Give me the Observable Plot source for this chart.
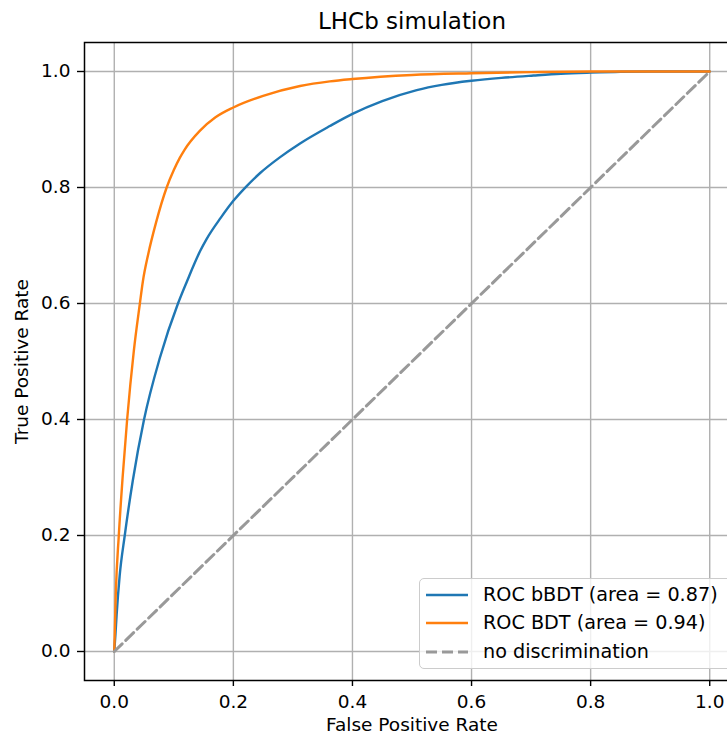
<!DOCTYPE html>
<html>
<head>
<meta charset="utf-8">
<script src="https://cdn.jsdelivr.net/npm/d3@7"></script>
<script src="https://cdn.jsdelivr.net/npm/@observablehq/plot@0.6"></script>
<style>
  html, body { margin: 0; padding: 0; background: #fff; overflow: hidden; width: 727px; height: 736px; }
  #wrap { position: relative; width: 745px; height: 736px; font-family: "DejaVu Sans", sans-serif; }
  #legend { position: absolute; left: 419px; top: 578px; width: 314px; height: 91px;
    border: 1.3px solid #cccccc; border-radius: 5px; background: rgba(255,255,255,0.8);
    box-sizing: border-box; }
  .row { position: absolute; left: 0; height: 28px; display: flex; align-items: center; }
  .row svg { position: absolute; left: 6px; }
  .row span { position: absolute; left: 63px; white-space: nowrap; font-size: 19.2px; color: #000; line-height: 28px; top: -14px; }
</style>
</head>
<body>
<div id="wrap"></div>
<script>
// Data
const titleText = "LHCb simulation";
const xLabel = "False Positive Rate";
const yLabel = "True Positive Rate";
const tickValues = [0, 0.2, 0.4, 0.6, 0.8, 1.0];

const bbdtFpr = [0, 0.002, 0.004, 0.009, 0.0176, 0.031, 0.050, 0.0765, 0.107, 0.122, 0.144, 0.155, 0.179, 0.20, 0.222, 0.245, 0.278, 0.312, 0.362, 0.40, 0.45, 0.508, 0.55, 0.60, 0.65, 0.704, 0.75, 0.80, 0.85, 0.90, 1.0];
const bbdtTpr = [0, 0.03, 0.064, 0.13, 0.20, 0.294, 0.40, 0.506, 0.60, 0.638, 0.69, 0.711, 0.748, 0.777, 0.802, 0.825, 0.852, 0.876, 0.906, 0.927, 0.949, 0.968, 0.977, 0.984, 0.989, 0.993, 0.996, 0.998, 0.9995, 1, 1];

const bdtFpr = [0, 0.001, 0.0025, 0.0076, 0.014, 0.0216, 0.0328, 0.043, 0.048, 0.057, 0.070, 0.088, 0.10, 0.110, 0.118, 0.144, 0.17, 0.20, 0.25, 0.312, 0.362, 0.40, 0.50, 0.60, 0.70, 0.80, 1.0];
const bdtTpr = [0, 0.04, 0.098, 0.20, 0.30, 0.40, 0.518, 0.60, 0.638, 0.685, 0.739, 0.80, 0.83, 0.851, 0.865, 0.898, 0.921, 0.938, 0.958, 0.975, 0.983, 0.987, 0.994, 0.997, 0.999, 1, 1];

const diagX = [0, 1];
const diagY = [0, 1];

const seriesNames = ["ROC bBDT (area = 0.87)", "ROC BDT (area = 0.94)", "no discrimination"];
const seriesColors = ["#1f77b4", "#ff7f0e", "#999999"];

const bbdt = bbdtFpr.map((x, i) => ({x, y: bbdtTpr[i]}));
const bdt = bdtFpr.map((x, i) => ({x, y: bdtTpr[i]}));
const diag = diagX.map((x, i) => ({x, y: diagY[i]}));

const fs = 18.5;
const chart = Plot.plot({
  width: 745,
  height: 736,
  marginLeft: 84,
  marginRight: 6,
  marginTop: 42,
  marginBottom: 56,
  style: {fontFamily: "DejaVu Sans, sans-serif", color: "#000", background: "#fff", overflow: "visible"},
  x: {domain: [-0.05, 1.05]},
  y: {domain: [-0.05, 1.05]},
  marks: [
    Plot.gridX(tickValues, {stroke: "#b0b0b0", strokeOpacity: 1, strokeWidth: 1.4}),
    Plot.gridY(tickValues, {stroke: "#b0b0b0", strokeOpacity: 1, strokeWidth: 1.4}),
    Plot.line(bbdt, {x: "x", y: "y", stroke: seriesColors[0], strokeWidth: 2.4, curve: "monotone-x"}),
    Plot.line(bdt, {x: "x", y: "y", stroke: seriesColors[1], strokeWidth: 2.4, curve: "monotone-x"}),
    Plot.line(diag, {x: "x", y: "y", stroke: seriesColors[2], strokeWidth: 3, strokeDasharray: "11,5"}),
    Plot.frame({stroke: "#000", strokeWidth: 1.5}),
    Plot.axisX(tickValues, {tickFormat: d3.format(".1f"), tickSize: 6, tickPadding: 8, fontSize: fs, label: null, strokeWidth: 1.4, stroke: "#000"}),
    Plot.axisY(tickValues, {tickFormat: d3.format(".1f"), tickSize: 7, tickPadding: 7, fontSize: fs, label: null, strokeWidth: 1.4, stroke: "#000"}),
    Plot.text([titleText], {frameAnchor: "top", lineAnchor: "middle", textAnchor: "middle", dy: -21, fontSize: 23, fill: "#000"}),
    Plot.text([xLabel], {frameAnchor: "bottom", lineAnchor: "middle", textAnchor: "middle", dy: 45, fontSize: fs, fill: "#000"}),
    Plot.text([yLabel], {frameAnchor: "left", lineAnchor: "middle", textAnchor: "middle", dx: -62, rotate: -90, fontSize: fs, fill: "#000"})
  ]
});
const wrap = document.getElementById("wrap");
wrap.appendChild(chart);

// Legend
const legend = document.createElement("div");
legend.id = "legend";
const rowTops = [16, 44, 73];
seriesNames.forEach((name, i) => {
  const row = document.createElement("div");
  row.className = "row";
  row.style.top = rowTops[i] + "px";
  const dash = i === 2 ? 'stroke-dasharray="11,5" stroke-width="3"' : 'stroke-width="2.4"';
  row.innerHTML = `<svg width="44" height="6" style="top:-3px"><line x1="0" y1="3" x2="42" y2="3" stroke="${seriesColors[i]}" ${dash}/></svg><span>${name}</span>`;
  legend.appendChild(row);
});
wrap.appendChild(legend);
</script>
</body>
</html>
